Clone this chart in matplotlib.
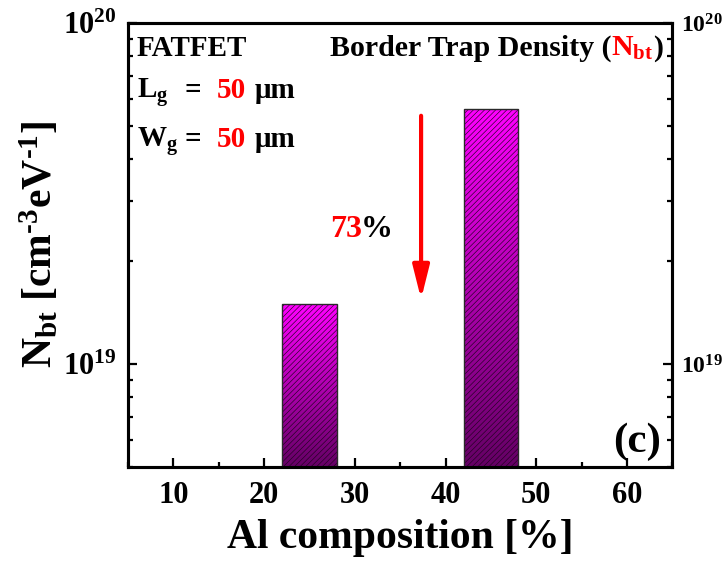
import numpy as np
import matplotlib
matplotlib.use("Agg")
import matplotlib.pyplot as plt
from matplotlib.colors import LinearSegmentedColormap
from matplotlib.patches import Rectangle
from matplotlib.ticker import LogLocator, LogFormatterMathtext, MultipleLocator, NullFormatter

# Border trap density vs. Al composition
al_composition = [25, 45]          # %
nbt_values = [1.5e19, 5.6e19]      # cm^-3 eV^-1
x_tick_values = [10, 20, 30, 40, 50, 60]
reduction_label = "73"

plt.rcParams.update({
    "font.family": "Liberation Serif",
    "font.weight": "bold",
    "axes.labelweight": "bold",
    "mathtext.fontset": "custom",
    "mathtext.rm": "Liberation Serif:bold",
    "mathtext.it": "Liberation Serif:italic:bold",
    "mathtext.bf": "Liberation Serif:bold",
    "mathtext.default": "rm",
    "hatch.linewidth": 0.45,
})

fig = plt.figure(figsize=(7.27, 5.65), dpi=100)
ax = fig.add_axes([0.176, 0.174, 0.749, 0.785])

ax.set_yscale("log")
y_floor = 5e18
ax.set_xlim(5, 65)
ax.set_ylim(y_floor, 1e20)

# gradient-filled, hatched bars
cmap = LinearSegmentedColormap.from_list("mag", ["#640064", "#ff00ff"])
grad = np.linspace(0, 1, 256).reshape(-1, 1)
bar_w = 6
heights = np.array(nbt_values) - y_floor
to_axes = ax.transData + ax.transAxes.inverted()
for xc, val in zip(al_composition, nbt_values):
    x0 = xc - bar_w / 2
    rect = Rectangle((x0, y_floor), bar_w, val - y_floor, transform=ax.transData,
                     facecolor="none", edgecolor="none")
    ax.add_patch(rect)
    (ax0, ay0), (ax1, ay1) = to_axes.transform([(x0, y_floor), (x0 + bar_w, val)])
    im = ax.imshow(grad, cmap=cmap, origin="lower", aspect="auto",
                   extent=[ax0, ax1, ay0, ay1], transform=ax.transAxes,
                   interpolation="bilinear", zorder=2)
    im.set_clip_path(rect)
ax.bar(al_composition, heights, width=bar_w, bottom=y_floor, facecolor="none",
       edgecolor="#220022", hatch="//////", linewidth=0, zorder=3)
ax.bar(al_composition, heights, width=bar_w, bottom=y_floor, facecolor="none",
       edgecolor="#2a2a2a", linewidth=1.0, zorder=4)

# axes styling
for side in ["left", "right", "top", "bottom"]:
    ax.spines[side].set_linewidth(2.2)
ax.set_xticks(x_tick_values)
ax.xaxis.set_minor_locator(MultipleLocator(5))
ax.yaxis.set_major_locator(LogLocator(base=10, numticks=10))
ax.yaxis.set_minor_locator(LogLocator(base=10, subs=np.arange(2, 10), numticks=20))
ax.yaxis.set_major_formatter(LogFormatterMathtext())
ax.yaxis.set_minor_formatter(NullFormatter())
ax.tick_params(which="both", direction="in", top=False, right=False, width=1.6)
ax.tick_params(which="major", length=6.5)
ax.tick_params(which="minor", length=3.5)
ax.tick_params(axis="x", which="major", labelsize=22, pad=10)
ax.tick_params(axis="y", which="major", labelsize=22, pad=8)

ax2 = ax.twinx()
ax2.set_yscale("log")
ax2.set_ylim(ax.get_ylim())
ax2.yaxis.set_major_locator(LogLocator(base=10, numticks=10))
ax2.yaxis.set_minor_locator(LogLocator(base=10, subs=np.arange(2, 10), numticks=20))
ax2.yaxis.set_major_formatter(LogFormatterMathtext())
ax2.yaxis.set_minor_formatter(NullFormatter())
ax2.tick_params(which="both", direction="in", width=1.6)
ax2.tick_params(which="major", length=6.5, labelsize=17, pad=6)
ax2.tick_params(which="minor", length=3.5)
for side in ["left", "right", "top", "bottom"]:
    ax2.spines[side].set_linewidth(2.2)

ax.set_xlabel("Al composition [%]", fontsize=30, labelpad=7)
ax.set_ylabel(r"$\mathrm{N_{bt}}$ [cm$^{\text{-3}}$eV$^{\text{-1}}$]", fontsize=30, labelpad=2)

# reduction arrow
ax.annotate("", xy=(37.3, 1.55e19), xytext=(37.3, 5.35e19),
            arrowprops=dict(arrowstyle="-|>,head_length=2.0,head_width=0.5",
                            lw=3, color="red", shrinkA=0, shrinkB=0), zorder=5)

fig.canvas.draw()
renderer = fig.canvas.get_renderer()
W, H = fig.bbox.width, fig.bbox.height


def place(x_px, y_px, s, color, size, ha="left"):
    """Text on a baseline given in pixels measured from the top-left corner."""
    return fig.text(x_px / W, 1 - y_px / H, s, color=color, fontsize=size,
                    va="baseline", ha=ha)


def place_chain_right(x_px, y_px, pieces, size, overlap=0.5):
    """Right-aligned run of coloured pieces sharing one baseline."""
    x = x_px
    for s, c in reversed(pieces):
        t = place(x, y_px, s, c, size, ha="right")
        x -= t.get_window_extent(renderer).width - overlap


# device annotation
place(137, 56, "FATFET", "black", 21)
for y_base, sym in [(98, r"$\mathrm{L_g}$"), (147, r"$\mathrm{W_g}$")]:
    place(137, y_base, sym, "black", 21)
    place(184, y_base, "=", "black", 21)
    place(217, y_base, "50", "red", 21)
    place(255, y_base, "\u03bcm", "black", 21)

# title at top right
place_chain_right(663, 56, [("Border Trap Density (", "black"),
                            (r"$\mathrm{N_{bt}}$", "red"), (")", "black")], 21.5)

place(330, 237, reduction_label, "red", 23)
place(361, 237, "%", "black", 23)
place(661, 452, "(c)", "black", 31, ha="right")

fig.savefig("out.png", dpi=100)
